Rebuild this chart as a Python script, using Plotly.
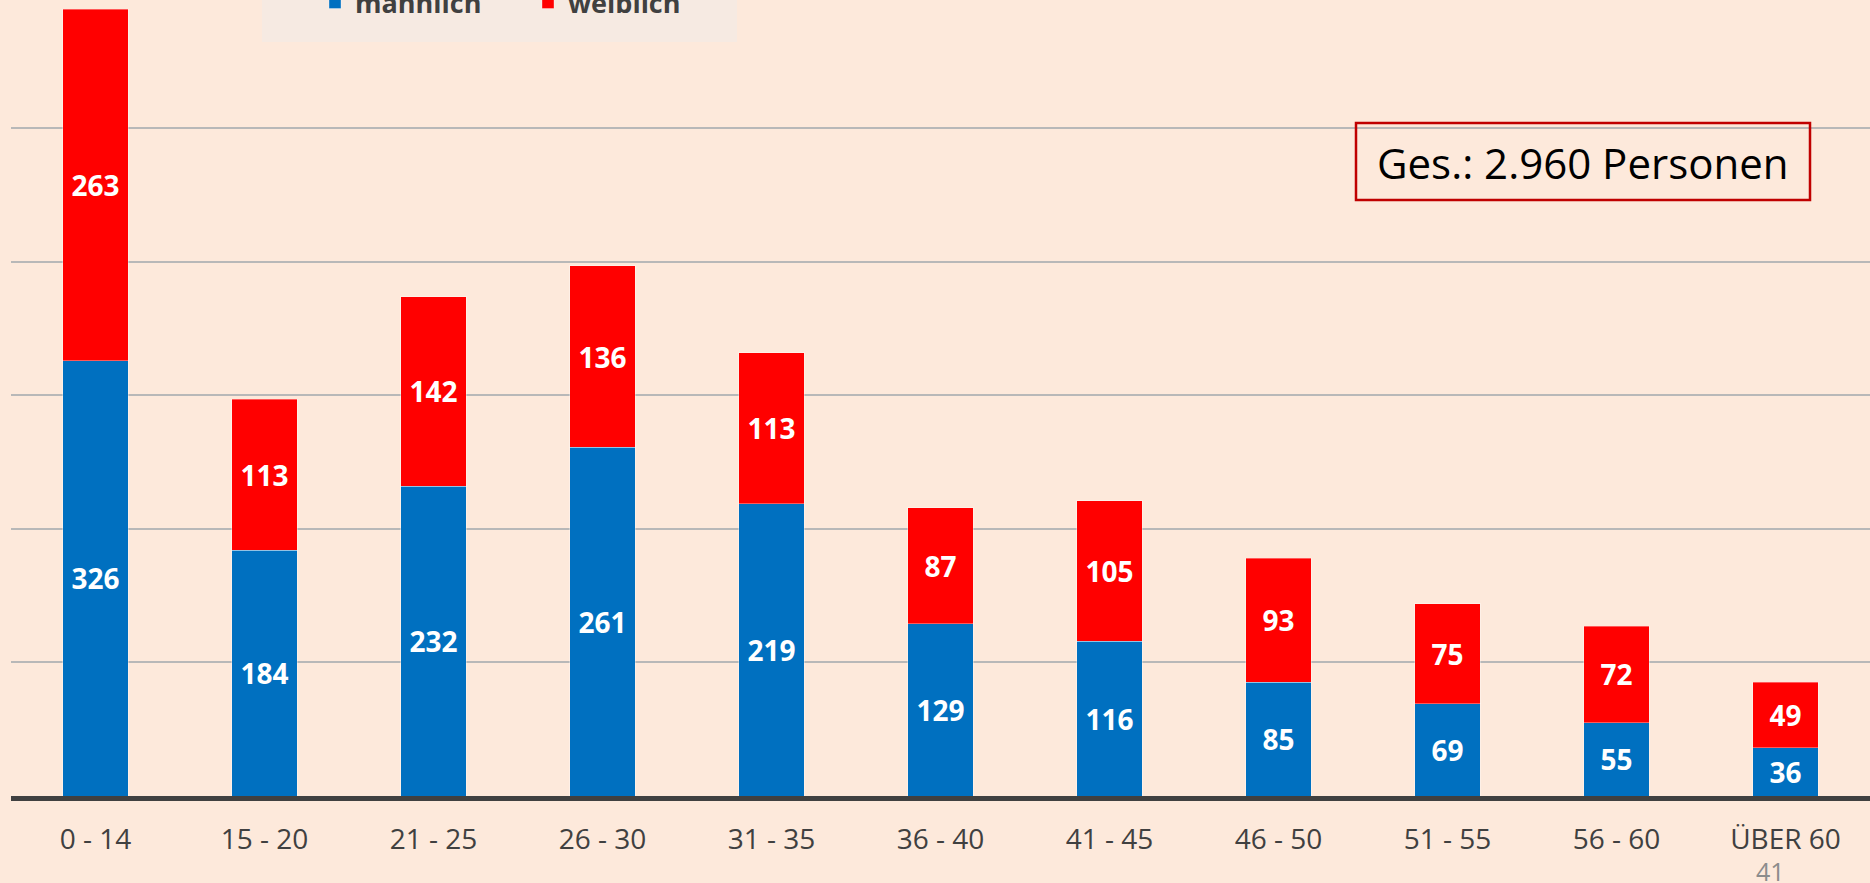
import plotly.graph_objects as go

categories = ["0 - 14", "15 - 20", "21 - 25", "26 - 30", "31 - 35", "36 - 40",
              "41 - 45", "46 - 50", "51 - 55", "56 - 60", "ÜBER 60"]
maennlich = [326, 184, 232, 261, 219, 129, 116, 85, 69, 55, 36]
weiblich = [263, 113, 142, 136, 113, 87, 105, 93, 75, 72, 49]
series_names = ["männlich", "weiblich"]
total_label = "Ges.: 2.960 Personen"
page_number = "41"

W, H = 1870, 883
ML, MR, MT, MB = 11, 0, 0, 87
PW, PH = W - ML - MR, H - MT - MB

def px_x(x):
    return (x - ML) / PW

def px_y(y):
    return (H - MB - y) / PH

BG = "#FDE9DB"
BLUE = "#0070C0"
RED = "#FF0000"

label_font = dict(family="Open Sans", size=28, color="white", weight="bold")

fig = go.Figure()
fig.add_trace(go.Bar(
    x=categories, y=maennlich, name=series_names[0],
    marker=dict(color=BLUE, line=dict(color="rgba(255,255,255,0.35)", width=1)),
    text=maennlich, textposition="inside", insidetextanchor="middle",
    textangle=0, textfont=label_font, constraintext="none",
))
fig.add_trace(go.Bar(
    x=categories, y=weiblich, name=series_names[1],
    marker=dict(color=RED, line=dict(color="rgba(255,255,255,0.35)", width=1)),
    text=weiblich, textposition="inside", insidetextanchor="middle",
    textangle=0, textfont=label_font, constraintext="none",
))

fig.update_layout(
    width=W, height=H,
    barmode="stack", bargap=0.61,
    paper_bgcolor=BG, plot_bgcolor=BG,
    margin=dict(l=ML, r=MR, t=MT, b=MB, autoexpand=False),
    showlegend=True,
    legend=dict(orientation="h", traceorder="normal", x=px_x(315), xanchor="left",
                y=px_y(3), yanchor="middle",
                bgcolor="rgba(0,0,0,0)", entrywidth=168,
                font=dict(family="Open Sans", size=27, color="#404040", weight="bold")),
    xaxis=dict(range=[-0.5, 10.5], showline=True, linecolor="#404040", linewidth=5,
               ticks="", ticklabelstandoff=14, showgrid=False, fixedrange=True,
               tickfont=dict(family="Open Sans", size=28, color="#404040")),
    yaxis=dict(range=[0, 596], showticklabels=False, showgrid=True, fixedrange=True,
               gridcolor="#B8B8B8", gridwidth=2, dtick=100, tick0=0,
               zeroline=False, showline=False),
    shapes=[
        dict(type="rect", xref="paper", yref="paper",
             x0=px_x(262), x1=px_x(737), y0=px_y(42), y1=px_y(-30),
             fillcolor="#F6EAE2", line=dict(width=0), layer="below"),
        dict(type="rect", xref="paper", yref="paper",
             x0=px_x(1356), x1=px_x(1810), y0=px_y(200), y1=px_y(123),
             fillcolor="rgba(0,0,0,0)", line=dict(color="#C00000", width=2.5)),
    ],
    annotations=[
        dict(text=total_label, xref="paper", yref="paper", x=px_x(1583), y=px_y(162),
             xanchor="center", yanchor="middle", showarrow=False,
             font=dict(family="Open Sans", size=42, color="black")),
        dict(text=page_number, xref="paper", yref="paper", x=px_x(1770), y=px_y(871),
             xanchor="center", yanchor="middle", showarrow=False,
             font=dict(family="Open Sans", size=25, color="#8C8C8C")),
    ],
)

fig.write_html("out.html", config={"displayModeBar": False},
               post_script="document.body.style.margin='0';")
